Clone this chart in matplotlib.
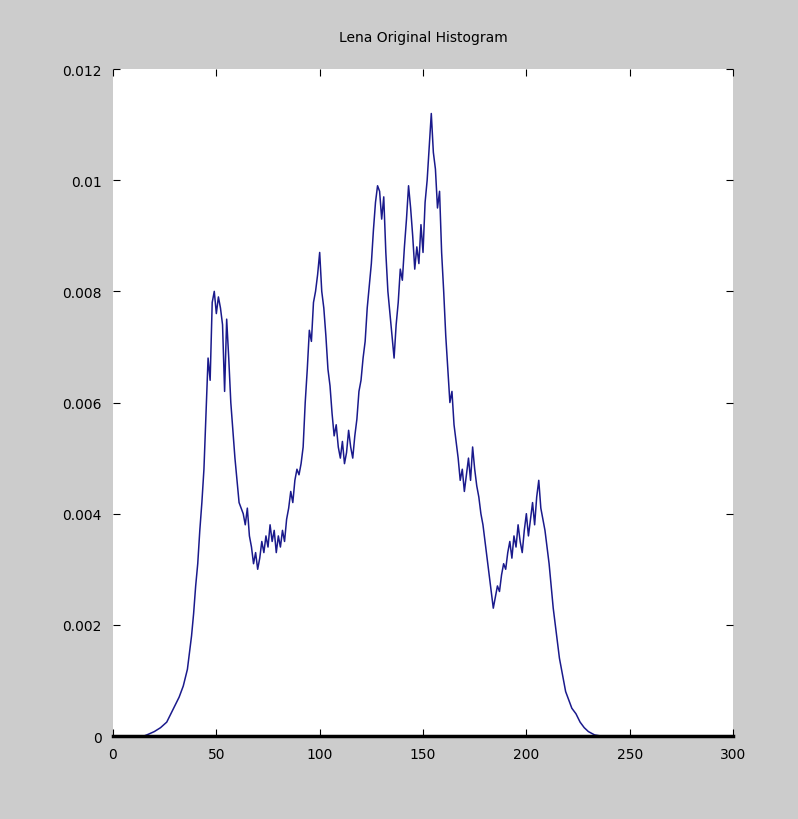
import numpy as np
import matplotlib.pyplot as plt

# histogram of the original image (normalized)
intensity = [0, 15, 17, 20, 23, 26, 28, 30, 32, 34, 36, 37, 38, 39, 40, 41, 42, 43, 44, 45,
             46, 47, 48, 49, 50, 51, 52, 53, 54, 55, 56, 57, 58, 59, 60, 61, 62, 63, 64, 65,
             66, 67, 68, 69, 70, 71, 72, 73, 74, 75, 76, 77, 78, 79, 80, 81, 82, 83, 84, 85,
             86, 87, 88, 89, 90, 91, 92, 93, 94, 95, 96, 97, 98, 99, 100, 101, 102, 103, 104, 105,
             106, 107, 108, 109, 110, 111, 112, 113, 114, 115, 116, 117, 118, 119, 120, 121, 122, 123, 124, 125,
             126, 127, 128, 129, 130, 131, 132, 133, 134, 135, 136, 137, 138, 139, 140, 141, 142, 143, 144, 145,
             146, 147, 148, 149, 150, 151, 152, 153, 154, 155, 156, 157, 158, 159, 160, 161, 162, 163, 164, 165,
             166, 167, 168, 169, 170, 171, 172, 173, 174, 175, 176, 177, 178, 179, 180, 181, 182, 183, 184, 185,
             186, 187, 188, 189, 190, 191, 192, 193, 194, 195, 196, 197, 198, 199, 200, 201, 202, 203, 204, 205,
             206, 207, 208, 209, 210, 211, 212, 213, 214, 215, 216, 217, 218, 219, 220, 221, 222, 224, 226, 228,
             230, 233, 236, 255]
freq = [0, 0, 0.00003, 0.00008, 0.00015, 0.00025, 0.0004, 0.00055, 0.0007, 0.0009, 0.0012, 0.0015, 0.0018, 0.0022, 0.0027, 0.0031, 0.0037, 0.0042, 0.0048, 0.0058,
        0.0068, 0.0064, 0.0078, 0.0080, 0.0076, 0.0079, 0.0077, 0.0074, 0.0062, 0.0075, 0.0068, 0.0060, 0.0055, 0.0050, 0.0046, 0.0042, 0.0041, 0.0040, 0.0038, 0.0041,
        0.0036, 0.0034, 0.0031, 0.0033, 0.0030, 0.0032, 0.0035, 0.0033, 0.0036, 0.0034, 0.0038, 0.0035, 0.0037, 0.0033, 0.0036, 0.0034, 0.0037, 0.0035, 0.0039, 0.0041,
        0.0044, 0.0042, 0.0046, 0.0048, 0.0047, 0.0049, 0.0052, 0.0060, 0.0066, 0.0073, 0.0071, 0.0078, 0.0080, 0.0083, 0.0087, 0.0080, 0.0077, 0.0072, 0.0066, 0.0063,
        0.0058, 0.0054, 0.0056, 0.0052, 0.0050, 0.0053, 0.0049, 0.0051, 0.0055, 0.0052, 0.0050, 0.0054, 0.0057, 0.0062, 0.0064, 0.0068, 0.0071, 0.0077, 0.0081, 0.0085,
        0.0091, 0.0096, 0.0099, 0.0098, 0.0093, 0.0097, 0.0087, 0.0080, 0.0076, 0.0072, 0.0068, 0.0074, 0.0078, 0.0084, 0.0082, 0.0088, 0.0093, 0.0099, 0.0095, 0.0090,
        0.0084, 0.0088, 0.0085, 0.0092, 0.0087, 0.0096, 0.0100, 0.0106, 0.0112, 0.0105, 0.0102, 0.0095, 0.0098, 0.0087, 0.0080, 0.0072, 0.0066, 0.0060, 0.0062, 0.0056,
        0.0053, 0.0050, 0.0046, 0.0048, 0.0044, 0.0047, 0.0050, 0.0046, 0.0052, 0.0048, 0.0045, 0.0043, 0.0040, 0.0038, 0.0035, 0.0032, 0.0029, 0.0026, 0.0023, 0.0025,
        0.0027, 0.0026, 0.0029, 0.0031, 0.0030, 0.0033, 0.0035, 0.0032, 0.0036, 0.0034, 0.0038, 0.0035, 0.0033, 0.0037, 0.0040, 0.0036, 0.0039, 0.0042, 0.0038, 0.0043,
        0.0046, 0.0041, 0.0039, 0.0037, 0.0034, 0.0031, 0.0027, 0.0023, 0.0020, 0.0017, 0.0014, 0.0012, 0.0010, 0.0008, 0.0007, 0.0006, 0.0005, 0.0004, 0.00025, 0.00015,
        0.00008, 0.00002, 0, 0]

xticks = [0, 50, 100, 150, 200, 250, 300]
yticks = [0, 0.002, 0.004, 0.006, 0.008, 0.01, 0.012]
ylabels = ["0", "0.002", "0.004", "0.006", "0.008", "0.01", "0.012"]

fig = plt.figure(figsize=(7.98, 8.2), dpi=100, facecolor="#cccccc")
ax = fig.add_axes([0.1416, 0.1012, 0.777, 0.8134])
ax.plot(intensity, freq, color="#1a1a8c", linewidth=1.1)

ax.set_xlim(0, 300)
ax.set_ylim(0, 0.012)
ax.set_xticks(xticks)
ax.set_xticklabels([str(t) for t in xticks])
ax.set_yticks(yticks)
ax.set_yticklabels(ylabels)
ax.tick_params(direction="in", length=5, top=True, right=True, labelsize=10, pad=8)

for s in ["left", "top", "right"]:
    ax.spines[s].set_visible(False)
ax.spines["bottom"].set_linewidth(2.5)

ax.set_title("Lena Original Histogram", fontsize=10, pad=20)

fig.savefig("out.png", dpi=100, facecolor=fig.get_facecolor())
